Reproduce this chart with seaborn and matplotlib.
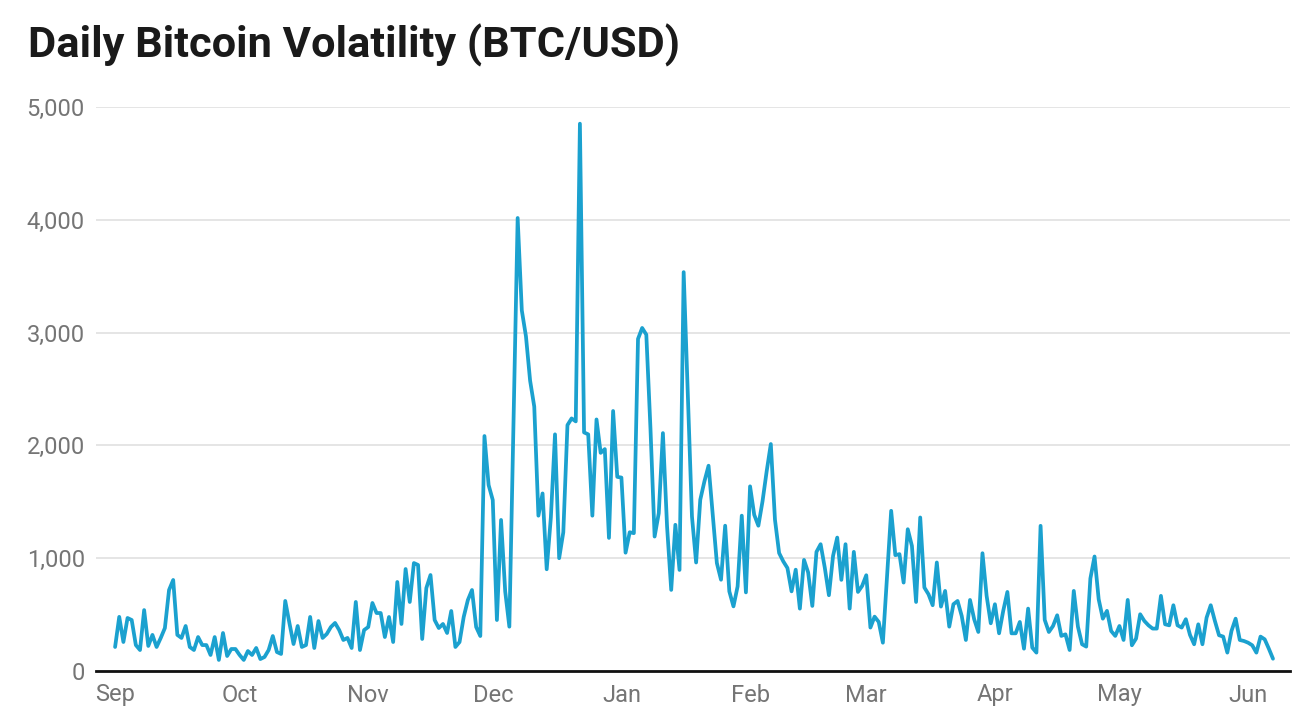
import numpy as np
import pandas as pd
import matplotlib
matplotlib.use("Agg")
import matplotlib.pyplot as plt
import matplotlib.dates as mdates
import seaborn as sns

start_date = "2017-09-01"
volatility = [
    # Sep
    213, 480, 257, 470, 452, 230, 186, 540, 222, 320, 213, 293, 381, 718, 807,
    320, 293, 399, 213, 186, 301, 230, 230, 142, 301, 98, 337, 133, 195, 195,
    # Oct
    142, 98, 177, 142, 204, 106, 124, 186, 310, 168, 151, 621, 426, 239, 399,
    213, 230, 479, 204, 443, 293, 328, 390, 426, 363, 275, 293, 204, 612, 186,
    363,
    # Nov
    390, 603, 514, 514, 301, 479, 257, 789, 417, 904, 612, 957, 940, 284, 736,
    851, 452, 381, 417, 337, 532, 213, 257, 479, 629, 718, 390, 310, 2083, 1649,
    # Dec
    1516, 452, 1339, 705, 393, 2200, 4016, 3197, 2967, 2574, 2344, 1377, 1574, 902, 1361,
    2098, 1000, 1230, 2180, 2239, 2213, 4852, 2115, 2098, 1377, 2230, 1934, 1967, 1180, 2305,
    1721,
    # Jan
    1715, 1049, 1230, 1222, 2944, 3041, 2982, 2150, 1192, 1399, 2109, 1281, 719, 1296, 896,
    3536, 2464, 1370, 962, 1518, 1681, 1820, 1385, 957, 809, 1288, 706, 573, 750, 1377,
    697,
    # Feb
    1637, 1385, 1288, 1504, 1770, 2012, 1341, 1046, 972, 913, 706, 898, 553, 985, 873,
    577, 1056, 1124, 917, 672, 1021, 1183, 808, 1124, 553, 1056, 701, 754,
    # Mar
    849, 385, 482, 435, 251, 835, 1420, 1027, 1036, 784, 1257, 1109, 612, 1361, 740,
    680, 583, 962, 571, 710, 393, 592, 621, 488, 275, 630, 459, 346, 1044, 666,
    423,
    # Apr
    592, 334, 533, 701, 334, 334, 435, 198, 553, 207, 163, 1287, 453, 346, 399,
    494, 311, 325, 186, 710, 393, 237, 216, 820, 1015, 636, 464, 533, 355, 311,
    # May
    399, 275, 630, 228, 287, 503, 444, 405, 376, 376, 666, 414, 405, 583, 405,
    385, 459, 320, 237, 414, 237, 473, 583, 444, 317, 305, 163, 355, 464, 275,
    266,
    # Jun
    251, 228, 163, 305, 281, 198, 109,
]

y_ticks = [0, 1000, 2000, 3000, 4000, 5000]
y_tick_labels = ["0", "1,000", "2,000", "3,000", "4,000", "5,000"]
title_text = "Daily Bitcoin Volatility (BTC/USD)"

dates = pd.date_range(start_date, periods=len(volatility), freq="D")
df = pd.DataFrame({"date": dates, "volatility": volatility})

sns.set_style("white")
plt.rcParams["font.family"] = ["Roboto", "DejaVu Sans"]

fig = plt.figure(figsize=(13.16, 7.24), dpi=100)
ax = fig.add_axes([96 / 1316, 1 - 671 / 724, (1290 - 96) / 1316, (671 - 107) / 724])

sns.lineplot(data=df, x="date", y="volatility", ax=ax, color="#1ba1cf", linewidth=2.7)

ax.set_ylim(0, 5000)
x0 = pd.Timestamp(start_date)
ax.set_xlim(x0 - pd.Timedelta(days=4.6), x0 + pd.Timedelta(days=283.1))

ax.set_yticks(y_ticks)
ax.set_yticklabels(y_tick_labels)
ax.xaxis.set_major_locator(mdates.MonthLocator())
ax.xaxis.set_major_formatter(mdates.DateFormatter("%b"))

ax.grid(axis="y", color="#e0e0e0", linewidth=1.2)
ax.grid(axis="x", visible=False)
for side in ["top", "right", "left"]:
    ax.spines[side].set_visible(False)
ax.spines["bottom"].set_color("#111111")
ax.spines["bottom"].set_linewidth(2)
ax.tick_params(axis="both", length=0, labelsize=17, colors="#757575")
ax.tick_params(axis="y", pad=8)
ax.tick_params(axis="x", pad=9)
ax.set_xlabel("")
ax.set_ylabel("")
ax.set_axisbelow(True)

fig.text(28 / 1316, 1 - 45 / 724, title_text, fontsize=31.2, fontweight="bold",
         color="#1a1a1a", va="center", ha="left")

fig.savefig("out.png", dpi=100)
